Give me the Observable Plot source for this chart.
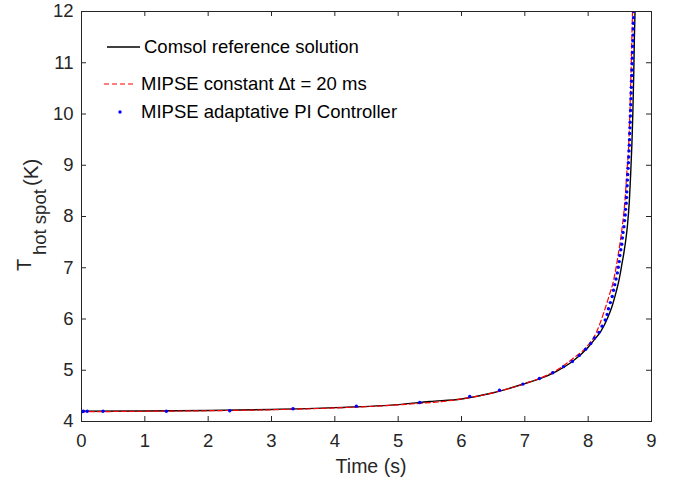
<!DOCTYPE html>
<html><head><meta charset="utf-8">
<script src="https://cdn.jsdelivr.net/npm/d3@7"></script>
<script src="https://cdn.jsdelivr.net/npm/@observablehq/plot@0.6"></script>
<style>body{margin:0;background:#fff;}</style>
</head><body><div id="chart"></div>
<script>
// Comsol reference solution (black solid)
const refTime = [0, 1, 2, 3, 4, 5, 5.5, 6, 6.5, 7, 7.25, 7.5, 7.75, 8.0, 8.1, 8.2, 8.3, 8.38, 8.44, 8.49, 8.53, 8.565, 8.6, 8.62, 8.65, 8.67, 8.69, 8.705, 8.72, 8.73, 8.74];
const refTemp = [4.20, 4.205, 4.215, 4.235, 4.27, 4.33, 4.39, 4.44, 4.56, 4.74, 4.84, 4.98, 5.17, 5.45, 5.60, 5.76, 6.0, 6.26, 6.52, 6.78, 7.05, 7.30, 7.60, 7.82, 8.3, 8.8, 9.4, 10.0, 10.8, 11.5, 12.0];
// MIPSE constant dt = 20 ms (red dashed)
const cstTime = [0, 1, 2, 3, 4, 5, 6, 6.5, 7, 7.25, 7.5, 7.75, 7.97, 8.13, 8.24, 8.33, 8.40, 8.48, 8.54, 8.58, 8.61, 8.64, 8.66, 8.68, 8.70];
const cstTemp = [4.19, 4.20, 4.21, 4.23, 4.265, 4.325, 4.44, 4.56, 4.74, 4.85, 5.00, 5.22, 5.45, 5.74, 6.10, 6.45, 6.75, 7.30, 7.82, 8.3, 8.85, 9.4, 10.1, 11.0, 12.0];
// MIPSE adaptative PI controller (blue dots)
const piTime = [0, 0.01, 0.03, 0.09, 0.34, 1.34, 2.34, 3.34, 4.34, 5.34, 6.13,
  6.60, 6.97, 7.23, 7.44, 7.61, 7.75, 7.86, 7.96, 8.04, 8.10, 8.17, 8.22, 8.27, 8.30, 8.32, 8.35, 8.38, 8.40, 8.42, 8.44,
  8.46, 8.475, 8.49, 8.50, 8.515, 8.53, 8.54, 8.55, 8.565, 8.575, 8.585, 8.59, 8.60, 8.605, 8.61, 8.615, 8.62, 8.625,
  8.63, 8.635, 8.64, 8.645, 8.65, 8.653, 8.656, 8.66, 8.663, 8.666, 8.67, 8.673, 8.676, 8.679, 8.682, 8.685, 8.688,
  8.691, 8.694, 8.697, 8.70, 8.703, 8.706, 8.709, 8.712, 8.714, 8.716, 8.718];
const piTemp = [4.19, 4.195, 4.2, 4.2, 4.2, 4.2, 4.21, 4.25, 4.30, 4.37, 4.49,
  4.61, 4.73, 4.84, 4.95, 5.07, 5.17, 5.29, 5.41, 5.52, 5.63, 5.74, 5.86, 5.98, 6.09, 6.20, 6.32, 6.44, 6.56, 6.67, 6.78,
  6.90, 7.01, 7.12, 7.24, 7.35, 7.46, 7.58, 7.69, 7.80, 7.92, 8.03, 8.14, 8.26, 8.37, 8.48, 8.60, 8.71, 8.82,
  8.94, 9.05, 9.16, 9.28, 9.39, 9.50, 9.62, 9.73, 9.84, 9.96, 10.07, 10.18, 10.30, 10.41, 10.52, 10.64, 10.75,
  10.86, 10.98, 11.09, 11.20, 11.32, 11.43, 11.54, 11.66, 11.77, 11.88, 12.0];
const xTicks = [0, 1, 2, 3, 4, 5, 6, 7, 8, 9];
const yTicks = [4, 5, 6, 7, 8, 9, 10, 11, 12];
const legendLabels = ["Comsol reference solution", "MIPSE constant \u2206t = 20 ms", "MIPSE adaptative PI Controller"];
const xLabel = "Time (s)";
const yLabelParts = ["T", "hot spot", "(K)"];

const ref = refTime.map((t, i) => ({t, T: refTemp[i]}));
const cst = cstTime.map((t, i) => ({t, T: cstTemp[i]}));
const pi = piTime.map((t, i) => ({t, T: piTemp[i]}));

const W = 676, H = 486, mL = 81, mR = 25, mT = 11, mB = 65;
const pW = W - mL - mR, pH = H - mT - mB;
const axisColor = "#262626";
const font = "'Liberation Sans', Arial, Helvetica, sans-serif";

const chart = Plot.plot({
  width: W, height: H,
  marginLeft: mL, marginRight: mR, marginTop: mT, marginBottom: mB,
  style: {fontFamily: font, fontSize: "18.5px", color: axisColor, background: "#fff", overflow: "visible"},
  x: {domain: [0, 9]},
  y: {domain: [4, 12]},
  marks: [
    Plot.line(ref, {x: "t", y: "T", stroke: "#000", strokeWidth: 1.4, curve: "monotone-x", clip: true}),
    Plot.line(cst, {x: "t", y: "T", stroke: "#ff0000", strokeWidth: 1.2, strokeDasharray: "5,3", curve: "monotone-x", clip: true}),
    Plot.dot(pi, {x: "t", y: "T", r: 1.7, fill: "#0000ff", stroke: "none", clip: true}),
    Plot.tickX(xTicks, {x: d => d, insetTop: pH - 5, stroke: axisColor}),
    Plot.tickX(xTicks, {x: d => d, insetBottom: pH - 5, stroke: axisColor}),
    Plot.tickY(yTicks, {y: d => d, insetRight: pW - 5, stroke: axisColor}),
    Plot.tickY(yTicks, {y: d => d, insetLeft: pW - 5, stroke: axisColor}),
    Plot.axisX(xTicks, {tickSize: 0, tickPadding: 12, label: null, fontSize: 18.5, tickFormat: d => String(d)}),
    Plot.axisY(yTicks, {tickSize: 0, tickPadding: 8, label: null, fontSize: 18.5, tickFormat: d => String(d)}),
    Plot.frame({stroke: axisColor, strokeWidth: 1})
  ]
});
document.getElementById("chart").appendChild(chart);

const svg = d3.select(chart);
// x axis label
svg.append("text")
  .attr("x", mL + pW / 2 + 5).attr("y", H - 13)
  .attr("text-anchor", "middle")
  .attr("font-family", font).attr("font-size", 19.5).attr("fill", axisColor)
  .text(xLabel);
// y axis label: T with subscript "hot spot", then (K)
const ylab = svg.append("g").attr("font-family", font).attr("fill", axisColor).attr("text-anchor", "start");
ylab.append("text").attr("transform", "translate(31,271) rotate(-90)").attr("font-size", 20).text(yLabelParts[0]);
ylab.append("text").attr("transform", "translate(46,255) rotate(-90)").attr("font-size", 18.5).text(yLabelParts[1]);
ylab.append("text").attr("transform", "translate(37.5,186) rotate(-90)").attr("font-size", 20.5).text(yLabelParts[2]);

// legend
const lg = svg.append("g").attr("font-family", font).attr("font-size", 18.5).attr("fill", "#000").attr("text-anchor", "start");
lg.append("line").attr("x1", 107).attr("x2", 140).attr("y1", 47).attr("y2", 47).attr("stroke", "#000").attr("stroke-width", 1.4);
lg.append("line").attr("x1", 104).attr("x2", 135).attr("y1", 84).attr("y2", 84).attr("stroke", "#ff0000").attr("stroke-width", 1.2).attr("stroke-dasharray", "5,3");
lg.append("circle").attr("cx", 120).attr("cy", 112).attr("r", 1.7).attr("fill", "#0000ff");
const ys = [47, 84, 112], xs = [144, 141, 141];
legendLabels.forEach((s, i) => {
  lg.append("text").attr("x", xs[i]).attr("y", ys[i]).attr("dy", "0.35em").attr("text-anchor", "start").text(s);
});
</script>
</body></html>
